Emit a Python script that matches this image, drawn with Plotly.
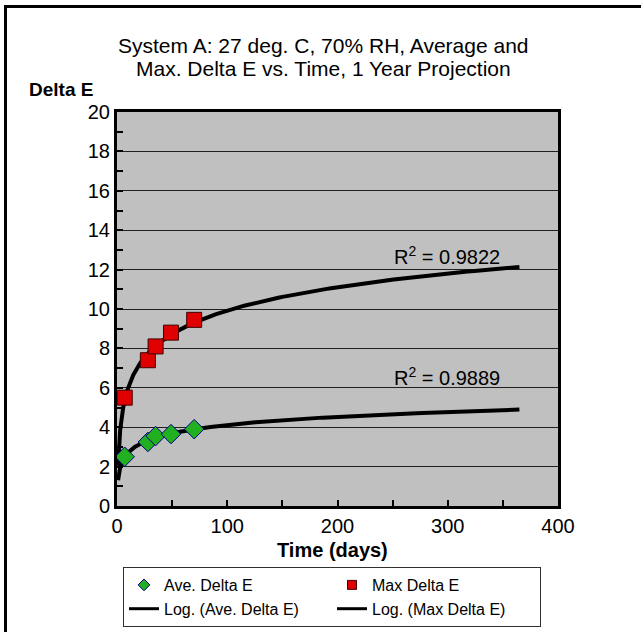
import numpy as np
import plotly.graph_objects as go

days = [7, 28, 35, 49, 70]
ave_delta_e = [2.5, 3.25, 3.55, 3.65, 3.9]
max_delta_e = [5.5, 7.4, 8.1, 8.8, 9.45]
r2_ave = "0.9889"
r2_max = "0.9822"
x_ticks = [0, 100, 200, 300, 400]
y_ticks = [0, 2, 4, 6, 8, 10, 12, 14, 16, 18, 20]
title_lines = ["System A: 27 deg. C, 70% RH, Average and",
               "Max. Delta E vs. Time, 1 Year Projection"]

W, H = 641, 632
L, R, T, B = 117, 83, 112, 126
PW, PH = W - L - R, H - T - B

FONT = "Liberation Sans, Arial, sans-serif"

def log_fit(x, y):
    a, b = np.polyfit(np.log(x), y, 1)
    xs = np.geomspace(1, 365, 300)
    return xs, a * np.log(xs) + b

fig = go.Figure()

xs, ys = log_fit(days, ave_delta_e)
xm, ym = log_fit(days, max_delta_e)

fig.add_trace(go.Scatter(x=xs, y=ys, mode="lines", line=dict(color="black", width=4),
                         showlegend=False, hoverinfo="skip"))
fig.add_trace(go.Scatter(x=xm, y=ym, mode="lines", line=dict(color="black", width=4),
                         showlegend=False, hoverinfo="skip"))
fig.add_trace(go.Scatter(x=days, y=max_delta_e, mode="markers",
                         marker=dict(symbol="square", size=15, color="#E00000",
                                     line=dict(color="#400000", width=1)),
                         showlegend=False))
fig.add_trace(go.Scatter(x=days, y=ave_delta_e, mode="markers",
                         marker=dict(symbol="diamond", size=15, color="#20B020",
                                     line=dict(color="#000080", width=1)),
                         showlegend=False))

# legend entries
fig.add_trace(go.Scatter(x=[None], y=[None], mode="markers", name="Ave. Delta E",
                         marker=dict(symbol="diamond", size=9, color="#20B020",
                                     line=dict(color="#000080", width=1))))
fig.add_trace(go.Scatter(x=[None], y=[None], mode="markers", name="Max Delta E",
                         marker=dict(symbol="square", size=9, color="#E00000",
                                     line=dict(color="#400000", width=1))))
fig.add_trace(go.Scatter(x=[None], y=[None], mode="lines", name="Log. (Ave. Delta E)",
                         line=dict(color="black", width=3)))
fig.add_trace(go.Scatter(x=[None], y=[None], mode="lines", name="Log. (Max Delta E)",
                         line=dict(color="black", width=3)))

def px_x(p):
    return (p - L) / PW

def px_y(p):
    return (H - B - p) / PH

fig.update_layout(
    width=W, height=H,
    margin=dict(l=L, r=R, t=T, b=B, autoexpand=False),
    paper_bgcolor="white",
    plot_bgcolor="#C0C0C0",
    font=dict(family=FONT, size=20, color="black"),
    xaxis=dict(range=[0, 400], tickvals=x_ticks, ticks="inside", ticklen=6, tickwidth=2,
               tickcolor="black", showgrid=False, zeroline=False,
               showline=True, linecolor="black", linewidth=3, mirror=True,
               minor=dict(dtick=50, ticks="inside", ticklen=6, tickwidth=2, tickcolor="black", showgrid=False),
               tickfont=dict(size=20)),
    yaxis=dict(range=[0, 20], tickvals=y_ticks, ticks="inside", ticklen=6, tickwidth=2,
               tickcolor="black", showgrid=True, gridcolor="#202020", gridwidth=1, zeroline=False,
               showline=True, linecolor="black", linewidth=3, mirror=True,
               minor=dict(dtick=1, ticks="inside", ticklen=6, tickwidth=2, tickcolor="black", showgrid=False),
               tickfont=dict(size=20)),
    legend=dict(orientation="h", x=px_x(123), y=px_y(567), xanchor="left", yanchor="top",
                bgcolor="white", bordercolor="#303030", borderwidth=1,
                font=dict(family=FONT, size=16, color="black"),
                entrywidth=163, entrywidthmode="pixels", tracegroupgap=0,
                itemwidth=30),
    showlegend=True,
)

fig.add_annotation(text=title_lines[0], xref="paper", yref="paper", x=px_x(323), y=px_y(45),
                   showarrow=False, font=dict(size=21), xanchor="center", yanchor="middle")
fig.add_annotation(text=title_lines[1], xref="paper", yref="paper", x=px_x(323), y=px_y(69),
                   showarrow=False, font=dict(size=21), xanchor="center", yanchor="middle")
fig.add_annotation(text="<b>Delta E</b>", xref="paper", yref="paper", x=px_x(61), y=px_y(90),
                   showarrow=False, font=dict(size=19), xanchor="center", yanchor="middle")
fig.add_annotation(text="<b>Time (days)</b>", xref="paper", yref="paper", x=px_x(332), y=px_y(550),
                   showarrow=False, font=dict(size=20), xanchor="center", yanchor="middle")
fig.add_annotation(text="R<sup>2</sup> = " + r2_max, x=299, y=12.74, showarrow=False,
                   font=dict(size=20), xanchor="center", yanchor="middle")
fig.add_annotation(text="R<sup>2</sup> = " + r2_ave, x=299, y=6.55, showarrow=False,
                   font=dict(size=20), xanchor="center", yanchor="middle")

# outer chart frame (left and top edges visible)
fig.add_shape(type="rect", xref="paper", yref="paper",
              x0=px_x(5.5), y0=px_y(H + 20), x1=px_x(W + 20), y1=px_y(6.5),
              line=dict(color="black", width=3), fillcolor="rgba(0,0,0,0)", layer="above")

fig.write_html("out.html")
